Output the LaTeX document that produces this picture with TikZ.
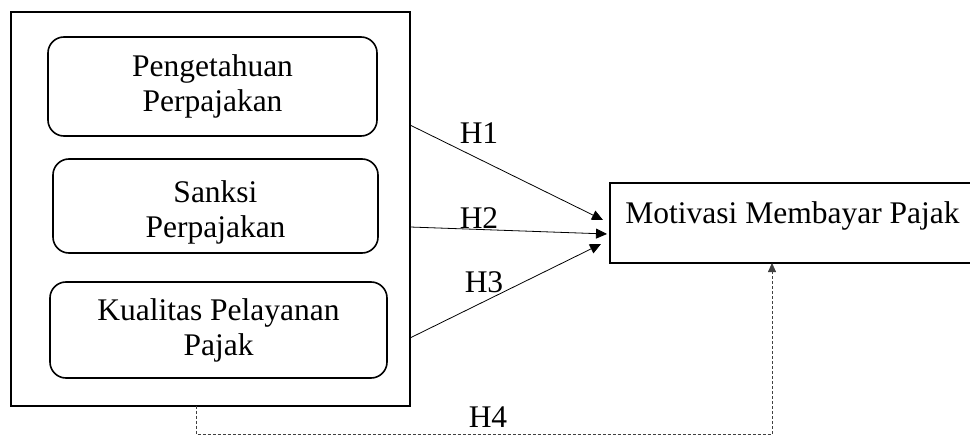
\documentclass[tikz,border=0pt]{standalone}
\usepackage{fontspec}
\setmainfont{Liberation Serif}
\usetikzlibrary{arrows.meta}
\begin{document}
\begin{tikzpicture}[x=1pt,y=-1pt,
  txt/.style={font=\fontsize{31.5}{35}\selectfont},
  outerbox/.style={draw,line width=2pt,inner sep=0pt,outer sep=0pt},
  varbox/.style={draw,line width=1.6pt,rounded corners=16pt,inner sep=0pt,outer sep=0pt,align=center,txt},
  depbox/.style={draw,line width=2pt,inner sep=0pt,outer sep=0pt,txt},
  hyp/.style={line width=0.8pt,-{Triangle[length=11pt,width=10pt]}},
  hypd/.style={line width=0.8pt,draw=black!75,dash pattern=on 3pt off 2pt,-{Triangle[length=9pt,width=8pt]}},
  lab/.style={txt,inner sep=0pt}]
\useasboundingbox (0,0) rectangle (970,436);
\node[outerbox,minimum width=399pt,minimum height=393.5pt] (outer) at (210.5,208.75) {};
\node[varbox,minimum width=329pt,minimum height=99pt] (b1) at (212.5,86.5) {Pengetahuan\\Perpajakan};
\node[varbox,minimum width=325pt,minimum height=94pt] (b2) at (215.5,206) {\raisebox{-31pt}[0pt][0pt]{\begin{tabular}[b]{@{}c@{}}Sanksi\\Perpajakan\end{tabular}}};
\node[varbox,minimum width=337pt,minimum height=96pt] (b3) at (218.5,330) {Kualitas Pelayanan\\Pajak};
\node[depbox,minimum width=365pt,minimum height=80pt] (mot) at (792.5,223) {\raisebox{0pt}[0pt][0pt]{Motivasi Membayar Pajak}};
% start / end points
\coordinate (s1) at (outer.east |- 0,125);
\coordinate (s2) at (outer.east |- 0,227);
\coordinate (s3) at (outer.east |- 0,338);
\coordinate (t1) at (603,220);
\coordinate (t2) at (607,234);
\coordinate (t3) at (601,244);
\draw[hyp] (s1) -- (t1);
\draw[hyp] (s2) -- (t2);
\draw[hyp] (s3) -- (t3);
\coordinate (d1) at (outer.south -| 196,0);
\coordinate (d2) at (mot.south -| 772,0);
\draw[hypd] (d1) -- (196,434) -- (772,434) -- (d2);
\node[lab] (h1) at (479,133) {H1};
\node[lab] (h2) at (479,218) {H2};
\node[lab] (h3) at (484,282) {H3};
\node[lab] (h4) at (488,417) {H4};
\end{tikzpicture}
\end{document}
